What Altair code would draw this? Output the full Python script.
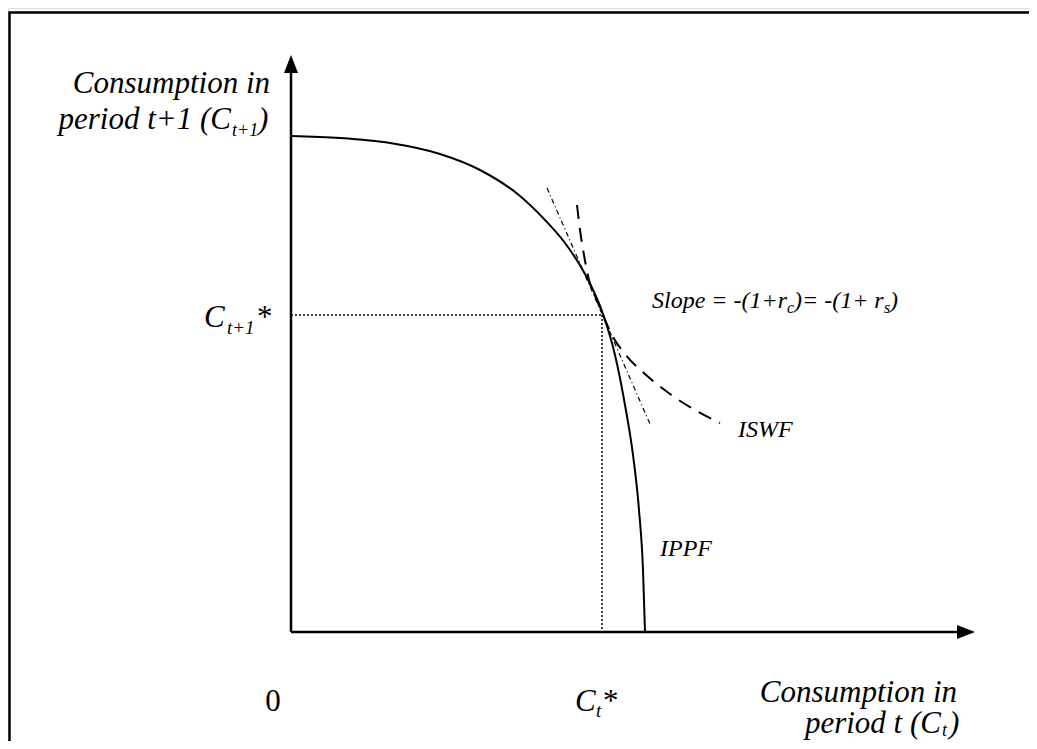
import altair as alt
import pandas as pd

# ---- data (units: distance from the axis origin) ----
ippf_x = [0, 49, 99, 149, 189, 229, 254, 274, 294, 312, 324, 334, 342, 348, 352, 354]
ippf_y = [496, 494, 489, 478, 462, 436, 412, 389, 358, 318, 277, 227, 177, 122, 62, 0]

iswf_x = [286, 289, 293, 298, 305, 312, 321, 334, 354, 379, 404, 429]
iswf_y = [427, 402, 377, 352, 334, 317, 297, 278, 258, 238, 222, 209]

tangent_x = [256, 359]
tangent_y = [444, 208]

opt_ct = 311      # C_t*
opt_ct1 = 317     # C_{t+1}*

x_axis_end = 675
y_axis_end = 568

# text pieces: text, x, y, size, italic, align
labels_text = ["Consumption in", "period t+1 (C", "t+1", ")",
               "C", "t+1", "*",
               "0", "C", "t", "*",
               "Consumption in", "period t (C", "t", ")",
               "Slope = -(1+r", "c", ")= -(1+ r", "s", ")",
               "ISWF", "IPPF"]
labels_x = [-21, -60, -59, -33,
            -87, -64, -34,
            -18, 284, 305, 312,
            666, 650, 651, 658,
            361, 496, 503, 593, 599,
            447, 369]
labels_y = [539, 503, 496, 503,
            305, 298, 305,
            -79, -79, -85, -79,
            -70, -101, -104, -101,
            324, 319, 324, 319, 324,
            195, 76]
labels_size = [31, 31, 18, 31,
               31, 19, 31,
               31, 31, 19, 31,
               31, 31, 18, 31,
               24, 16, 24, 16, 24,
               24, 24]
labels_italic = [1, 1, 1, 1,
                 1, 1, 0,
                 0, 1, 1, 0,
                 1, 1, 1, 1,
                 1, 1, 1, 1, 1,
                 1, 1]
labels_align = ["right", "right", "left", "left",
                "left", "left", "left",
                "center", "left", "left", "left",
                "right", "right", "left", "left",
                "left", "left", "left", "left", "left",
                "left", "left"]

# frame around the figure
frame_x = [-281.5, -281.5, 746]
frame_y = [-117, 619.5, 619.5]

W, H = 1021, 733
xs = alt.Scale(domain=[-283, 738], nice=False, zero=False)
ys = alt.Scale(domain=[-109, 624], nice=False, zero=False)
X = lambda f: alt.X(f, type="quantitative", scale=xs, axis=None)
Y = lambda f: alt.Y(f, type="quantitative", scale=ys, axis=None)

FONT = "Liberation Serif"

ippf = alt.Chart(pd.DataFrame({"x": ippf_x, "y": ippf_y, "o": range(len(ippf_x))})).mark_line(
    color="black", strokeWidth=2, interpolate="monotone").encode(x=X("x"), y=Y("y"), order="o:Q")

iswf = alt.Chart(pd.DataFrame({"x": iswf_x, "y": iswf_y, "o": range(len(iswf_x))})).mark_line(
    color="black", strokeWidth=2, strokeDash=[14, 9], interpolate="monotone").encode(x=X("x"), y=Y("y"), order="o:Q")

tangent = alt.Chart(pd.DataFrame({"x": tangent_x, "y": tangent_y})).mark_line(
    color="black", strokeWidth=1.2, strokeDash=[5, 3, 1, 3]).encode(x=X("x"), y=Y("y"))

guides = alt.Chart(pd.DataFrame({
    "x": [0, opt_ct, opt_ct, opt_ct],
    "y": [opt_ct1, opt_ct1, opt_ct1, 0],
    "g": [0, 0, 1, 1]})).mark_line(
    color="black", strokeWidth=1.5, strokeDash=[2, 2]).encode(x=X("x"), y=Y("y"), detail="g:N")

axes = alt.Chart(pd.DataFrame({
    "x": [0, 0, 0, x_axis_end],
    "y": [y_axis_end, 0, 0, 0],
    "g": [0, 0, 1, 1]})).mark_line(
    color="black", strokeWidth=2.5).encode(x=X("x"), y=Y("y"), detail="g:N")

arrow_up = alt.Chart(pd.DataFrame({"x": [0], "y": [y_axis_end]})).mark_point(
    shape="M-0.7,0.9L0,-0.9L0.7,0.9Z", size=400, filled=True, color="black", opacity=1
).encode(x=X("x"), y=Y("y"))
arrow_right = alt.Chart(pd.DataFrame({"x": [x_axis_end], "y": [0]})).mark_point(
    shape="M-0.9,-0.7L0.9,0L-0.9,0.7Z", size=400, filled=True, color="black", opacity=1
).encode(x=X("x"), y=Y("y"))

frame = alt.Chart(pd.DataFrame({"x": frame_x, "y": frame_y, "o": [0, 1, 2]})).mark_line(
    color="black", strokeWidth=2.5).encode(x=X("x"), y=Y("y"), order="o:Q")

texts = []
for t, x, y, s, it, al in zip(labels_text, labels_x, labels_y, labels_size, labels_italic, labels_align):
    texts.append(alt.Chart(pd.DataFrame({"x": [x], "y": [y], "t": [t]})).mark_text(
        font=FONT, fontSize=s, fontStyle="italic" if it else "normal", align=al,
        baseline="alphabetic", color="black").encode(x=X("x"), y=Y("y"), text="t:N"))

chart = alt.layer(frame, axes, arrow_up, arrow_right, guides, tangent, iswf, ippf, *texts).properties(
    width=W, height=H, padding=0, autosize=alt.AutoSizeParams(type="none"),
).configure_view(stroke=None).configure(background="white")

chart.save("out.html", embed_options={"renderer": "svg", "actions": False})
